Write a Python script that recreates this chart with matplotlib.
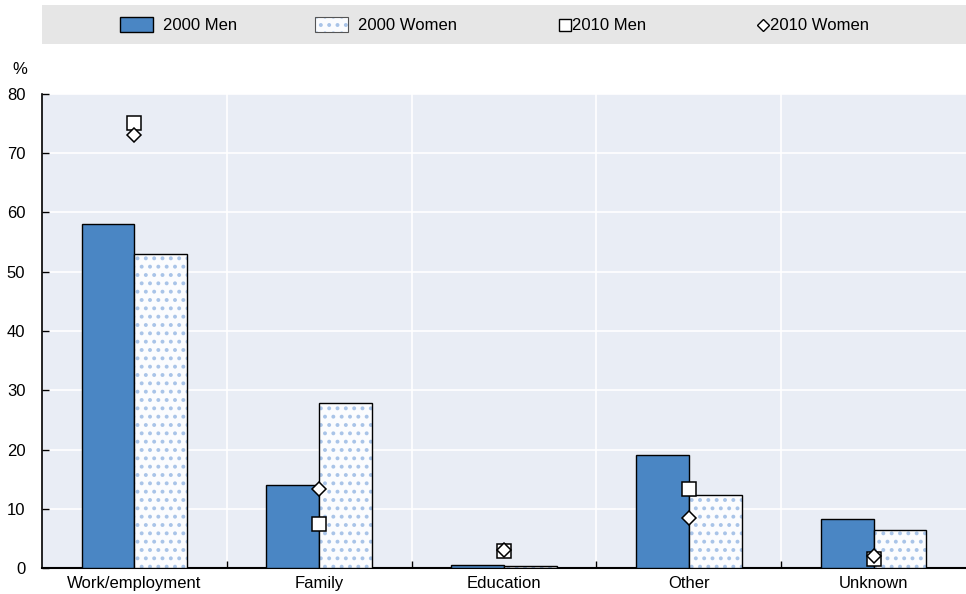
import matplotlib.pyplot as plt
from matplotlib.patches import Rectangle
from matplotlib.lines import Line2D
import numpy as np

plt.rcParams['font.family'] = ['Liberation Sans', 'DejaVu Sans']
plt.rcParams['hatch.linewidth'] = 1.6

categories = ['Work/employment', 'Family', 'Education', 'Other', 'Unknown']
men_2000 = [58.1, 14.0, 0.45, 19.1, 8.3]
women_2000 = [53.0, 27.9, 0.3, 12.3, 6.4]
men_2010 = [75.1, 7.4, 2.9, 13.3, 1.5]
women_2010 = [73.1, 13.3, 3.0, 8.5, 2.0]

blue = '#4a86c4'
dot = '#a9c4e8'
bg = '#e9edf5'
W, H = 966, 594

fig = plt.figure(figsize=(9.66, 5.94), dpi=100)
ax = fig.add_axes([42 / W, 26 / H, 924 / W, 474 / H])
ax.set_facecolor(bg)

x = np.arange(len(categories))
w = 0.286
ax.bar(x - w / 2, men_2000, w, color=blue, edgecolor='black', linewidth=1.0, zorder=3)
# dotted fill for women, then a black outline on top
ax.bar(x + w / 2, women_2000, w, color='#fbfcfe', edgecolor=dot, hatch='..', linewidth=0, zorder=3)
ax.bar(x + w / 2, women_2000, w, color='none', edgecolor='black', linewidth=1.0, zorder=4)

ax.plot(x, men_2010, linestyle='none', marker='s', markersize=10, markerfacecolor='white',
        markeredgecolor='black', markeredgewidth=1.1, zorder=5)
ax.plot(x, women_2010, linestyle='none', marker='D', markersize=7, markerfacecolor='white',
        markeredgecolor='black', markeredgewidth=1.1, zorder=6)

ax.set_xlim(-0.5, len(categories) - 0.5)
ax.set_ylim(0, 80)
ax.set_yticks(range(0, 81, 10))
ax.set_xticks(x)
ax.set_xticklabels(categories, fontsize=12)
ax.set_xticks(np.arange(0.5, len(categories) - 0.5, 1), minor=True)
ax.tick_params(axis='x', which='major', length=0, pad=6)
ax.tick_params(axis='x', which='minor', direction='in', length=5, width=1)
ax.tick_params(axis='y', direction='in', length=5, width=1, labelsize=12, pad=12)
ax.grid(True, axis='y', color='white', linewidth=1.2, zorder=0)
ax.grid(True, axis='x', which='minor', color='white', linewidth=1.2, zorder=0)
ax.set_axisbelow(True)
for s in ['top', 'right']:
    ax.spines[s].set_visible(False)
ax.spines['left'].set_linewidth(1.2)
ax.spines['bottom'].set_linewidth(1.5)

fig.text(20 / W, 1 - 70 / H, '%', fontsize=12, ha='center', va='center')

# legend strip, items placed by hand
fig.patches.append(Rectangle((42 / W, 1 - 44 / H), 924 / W, 39 / H,
                             transform=fig.transFigure, facecolor='#e6e6e6', edgecolor='none'))
ly = 1 - 25 / H
fig.patches.append(Rectangle((120 / W, 1 - 32 / H), 33 / W, 15 / H, transform=fig.transFigure,
                             facecolor=blue, edgecolor='black', linewidth=1.0))
fig.patches.append(Rectangle((315 / W, 1 - 32 / H), 33 / W, 15 / H, transform=fig.transFigure,
                             facecolor='#fbfcfe', edgecolor=dot, hatch='..', linewidth=0))
fig.patches.append(Rectangle((315 / W, 1 - 32 / H), 33 / W, 15 / H, transform=fig.transFigure,
                             facecolor='none', edgecolor='#555555', linewidth=0.8))
fig.lines.append(Line2D([565 / W], [ly], transform=fig.transFigure, marker='s', markersize=9,
                        markerfacecolor='white', markeredgecolor='black', markeredgewidth=1.0))
fig.lines.append(Line2D([763 / W], [ly], transform=fig.transFigure, marker='D', markersize=6.5,
                        markerfacecolor='white', markeredgecolor='black', markeredgewidth=1.0))
fig.text(163 / W, ly, '2000 Men', fontsize=12, va='center')
fig.text(358 / W, ly, '2000 Women', fontsize=12, va='center')
fig.text(572 / W, ly, '2010 Men', fontsize=12, va='center')
fig.text(770 / W, ly, '2010 Women', fontsize=12, va='center')

plt.savefig('out.png', dpi=100)
